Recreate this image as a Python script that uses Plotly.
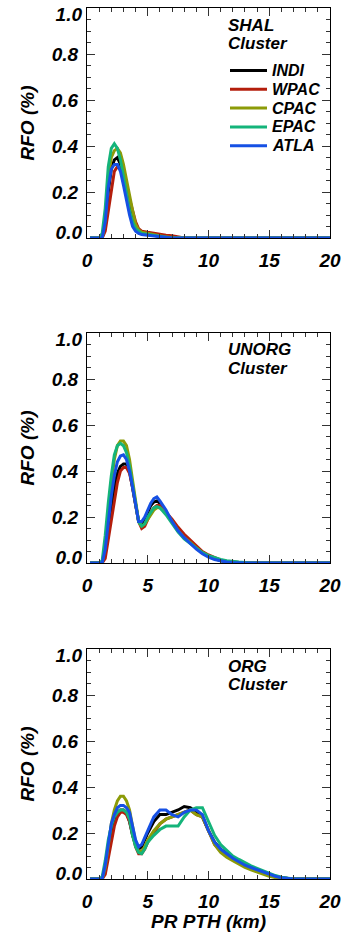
import plotly.graph_objects as go

# Precipitation top height (km) sample points for each cluster
X_SHAL = [0.25, 1.0, 1.25, 1.5, 1.75, 2.0, 2.25, 2.5, 2.75, 3.0, 3.25, 3.5, 3.75, 4.0,
          4.25, 4.5, 5.0, 5.5, 6.0, 6.5, 7.0, 7.5, 8.0, 20.0]
X_UNORG = [0.25, 1.0, 1.25, 1.5, 1.75, 2.0, 2.25, 2.5, 2.75, 3.0, 3.25, 3.5, 3.75, 4.0,
           4.25, 4.5, 4.75, 5.0, 5.25, 5.5, 5.75, 6.0, 6.5, 7.0, 7.5, 8.0, 8.5, 9.0,
           9.5, 10.0, 10.5, 11.0, 11.5, 12.0, 12.5, 13.0, 13.5, 20.0]
X_ORG = [0.25, 1.0, 1.25, 1.5, 1.75, 2.0, 2.25, 2.5, 2.75, 3.0, 3.25, 3.5, 3.75, 4.0,
         4.25, 4.5, 4.75, 5.0, 5.5, 6.0, 6.5, 7.0, 7.5, 8.0, 8.5, 9.0, 9.5, 10.0,
         10.5, 11.0, 11.5, 12.0, 12.5, 13.0, 13.5, 14.0, 14.5, 15.0, 15.5, 16.0,
         16.5, 17.0, 20.0]

REGIONS = ["INDI", "WPAC", "CPAC", "EPAC", "ATLA"]
COLORS = ["#000000", "#b41e0c", "#8c9b08", "#14b47a", "#1650e4"]

# RFO (%) - shallow cluster
SHAL_INDI = [0, 0, 0.0, 0.06, 0.20, 0.30, 0.34, 0.35, 0.32, 0.27, 0.21, 0.15, 0.09, 0.05,
             0.03, 0.02, 0.015, 0.01, 0.008, 0.005, 0.003, 0.0, 0, 0]
SHAL_WPAC = [0, 0, 0, 0.03, 0.12, 0.22, 0.29, 0.31, 0.30, 0.27, 0.22, 0.17, 0.12, 0.07,
             0.04, 0.03, 0.025, 0.02, 0.015, 0.012, 0.01, 0.005, 0, 0]
SHAL_CPAC = [0, 0, 0, 0.08, 0.26, 0.35, 0.38, 0.39, 0.37, 0.32, 0.25, 0.18, 0.12, 0.06,
             0.035, 0.025, 0.02, 0.012, 0.008, 0.005, 0.002, 0, 0, 0]
SHAL_EPAC = [0, 0, 0.02, 0.13, 0.31, 0.39, 0.41, 0.39, 0.34, 0.27, 0.19, 0.12, 0.07, 0.04,
             0.03, 0.02, 0.015, 0.01, 0.006, 0.003, 0, 0, 0, 0]
SHAL_ATLA = [0, 0, 0, 0.07, 0.22, 0.30, 0.32, 0.32, 0.29, 0.23, 0.16, 0.10, 0.05, 0.03,
             0.02, 0.015, 0.012, 0.01, 0.006, 0.003, 0, 0, 0, 0]

# RFO (%) - unorganized cluster
UNORG_INDI = [0, 0, 0.0, 0.05, 0.15, 0.25, 0.33, 0.39, 0.42, 0.43, 0.43, 0.40, 0.33, 0.25,
              0.18, 0.17, 0.19, 0.22, 0.25, 0.265, 0.27, 0.26, 0.22, 0.18, 0.14, 0.11,
              0.09, 0.065, 0.045, 0.03, 0.02, 0.01, 0.005, 0.002, 0, 0, 0, 0]
UNORG_WPAC = [0, 0, 0, 0.02, 0.10, 0.19, 0.28, 0.35, 0.40, 0.415, 0.415, 0.39, 0.33, 0.25,
              0.18, 0.15, 0.16, 0.19, 0.22, 0.24, 0.25, 0.25, 0.22, 0.19, 0.155, 0.125,
              0.10, 0.075, 0.05, 0.035, 0.022, 0.012, 0.007, 0.004, 0.002, 0, 0, 0]
UNORG_CPAC = [0, 0, 0, 0.08, 0.22, 0.35, 0.45, 0.51, 0.53, 0.53, 0.51, 0.45, 0.36, 0.26,
              0.18, 0.16, 0.17, 0.19, 0.21, 0.23, 0.24, 0.24, 0.22, 0.18, 0.14, 0.11,
              0.09, 0.065, 0.045, 0.03, 0.02, 0.012, 0.006, 0.003, 0.001, 0, 0, 0]
UNORG_EPAC = [0, 0, 0.01, 0.12, 0.26, 0.38, 0.47, 0.51, 0.52, 0.51, 0.48, 0.42, 0.34, 0.25,
              0.18, 0.16, 0.17, 0.20, 0.22, 0.24, 0.245, 0.24, 0.21, 0.17, 0.135, 0.105,
              0.085, 0.065, 0.045, 0.032, 0.022, 0.015, 0.01, 0.006, 0.004, 0.002, 0, 0]
UNORG_ATLA = [0, 0, 0, 0.06, 0.18, 0.29, 0.38, 0.44, 0.465, 0.47, 0.45, 0.40, 0.33, 0.25,
              0.18, 0.18, 0.20, 0.23, 0.26, 0.28, 0.287, 0.27, 0.23, 0.18, 0.14, 0.11,
              0.085, 0.06, 0.04, 0.025, 0.015, 0.008, 0.004, 0.002, 0, 0, 0, 0]

# RFO (%) - organized cluster
ORG_INDI = [0, 0, 0.0, 0.05, 0.14, 0.21, 0.26, 0.29, 0.30, 0.30, 0.29, 0.25, 0.19, 0.15,
            0.13, 0.14, 0.17, 0.20, 0.25, 0.28, 0.28, 0.29, 0.30, 0.315, 0.31, 0.29,
            0.27, 0.21, 0.16, 0.13, 0.11, 0.09, 0.075, 0.06, 0.05, 0.04, 0.03, 0.02,
            0.01, 0.003, 0, 0, 0]
ORG_WPAC = [0, 0, 0, 0.02, 0.09, 0.17, 0.23, 0.27, 0.29, 0.29, 0.28, 0.25, 0.19, 0.14,
            0.11, 0.11, 0.13, 0.16, 0.20, 0.24, 0.26, 0.27, 0.28, 0.29, 0.30, 0.28,
            0.27, 0.21, 0.15, 0.12, 0.10, 0.085, 0.07, 0.055, 0.045, 0.035, 0.025,
            0.018, 0.011, 0.006, 0.003, 0.001, 0]
ORG_CPAC = [0, 0, 0, 0.05, 0.15, 0.24, 0.30, 0.34, 0.36, 0.36, 0.34, 0.30, 0.23, 0.16,
            0.12, 0.12, 0.14, 0.17, 0.21, 0.24, 0.26, 0.27, 0.28, 0.29, 0.30, 0.28,
            0.27, 0.21, 0.15, 0.115, 0.095, 0.08, 0.065, 0.05, 0.04, 0.03, 0.02, 0.012,
            0.006, 0.003, 0.001, 0, 0]
ORG_EPAC = [0, 0, 0.01, 0.08, 0.17, 0.23, 0.27, 0.29, 0.30, 0.30, 0.29, 0.26, 0.19, 0.14,
            0.115, 0.11, 0.13, 0.16, 0.19, 0.215, 0.23, 0.23, 0.23, 0.27, 0.30, 0.31,
            0.31, 0.25, 0.19, 0.15, 0.125, 0.10, 0.085, 0.07, 0.057, 0.046, 0.035,
            0.025, 0.015, 0.008, 0.003, 0, 0]
ORG_ATLA = [0, 0, 0, 0.06, 0.16, 0.24, 0.28, 0.31, 0.32, 0.32, 0.31, 0.29, 0.23, 0.17,
            0.14, 0.15, 0.18, 0.21, 0.27, 0.30, 0.30, 0.28, 0.27, 0.29, 0.30, 0.30,
            0.28, 0.21, 0.16, 0.13, 0.11, 0.09, 0.075, 0.06, 0.05, 0.04, 0.03, 0.02,
            0.012, 0.005, 0.001, 0, 0]

PANELS = [
    ("SHAL", X_SHAL, [SHAL_INDI, SHAL_WPAC, SHAL_CPAC, SHAL_EPAC, SHAL_ATLA]),
    ("UNORG", X_UNORG, [UNORG_INDI, UNORG_WPAC, UNORG_CPAC, UNORG_EPAC, UNORG_ATLA]),
    ("ORG", X_ORG, [ORG_INDI, ORG_WPAC, ORG_CPAC, ORG_EPAC, ORG_ATLA]),
]

Y_TICKS = [0.0, 0.2, 0.4, 0.6, 0.8, 1.0]
Y_RANGE = [0.0, 1.0]

W, H = 346, 932
FRAME_L, FRAME_R = 87, 330
FRAME_TOPS = [8, 333, 649]
FRAME_H = 230

FAMILY = "Liberation Sans, Arial, sans-serif"
FONT = dict(family=FAMILY, size=19, color="black", weight="bold", style="italic")
SMALL = dict(family=FAMILY, size=16, color="black", weight="bold", style="italic")


def px_x(px):
    return (px - FRAME_L) / (FRAME_R - FRAME_L)


def px_y(py):
    return 1 - py / H


fig = go.Figure()
layout = dict(
    width=W, height=H, margin=dict(l=FRAME_L, r=W - FRAME_R, t=0, b=0),
    paper_bgcolor="white", plot_bgcolor="white", showlegend=False, font=FONT,
)

annotations, shapes = [], []
extra = 4  # next free y-axis number
for i, (name, xs, series) in enumerate(PANELS):
    ax = "" if i == 0 else str(i + 1)
    top = FRAME_TOPS[i]
    common = dict(showline=True, linecolor="black", linewidth=1, mirror="ticks",
                  ticks="inside", tickcolor="#333", showgrid=False, zeroline=False,
                  tickfont=FONT, automargin=False)
    layout["xaxis" + ax] = dict(
        common, domain=[0, 1], anchor="y" + ax, range=[0, 20], tick0=0, dtick=5,
        ticklen=8, ticklabelstandoff=5,
        minor=dict(ticks="inside", dtick=1, ticklen=4, tickcolor="#333"),
        title=dict(text="PR PTH (km)" if i == 2 else "", font=FONT, standoff=1),
    )
    # main RFO axis: frame, ticks and the inner labels
    layout["yaxis" + ax] = dict(
        common, domain=[px_y(top + FRAME_H), px_y(top)], anchor="x" + ax,
        range=Y_RANGE, tickmode="array", tickvals=Y_TICKS,
        ticktext=["" if v in (Y_TICKS[0], Y_TICKS[-1]) else f"{v:.1f}" for v in Y_TICKS],
        ticklen=8, ticklabelstandoff=4,
        minor=dict(ticks="inside", dtick=0.05, ticklen=4, tickcolor="#333"),
        title=dict(text="RFO (%)", font=FONT, standoff=12),
    )
    # twin RFO axes on the same scale carrying the end labels, nudged inward
    y_ids = ["y" + ax] * 3
    for val, shift in ((Y_TICKS[0], -6), (Y_TICKS[-1], 6)):
        layout[f"yaxis{extra}"] = dict(
            overlaying="y" + ax, anchor="x" + ax, side="left", range=Y_RANGE,
            tickmode="array", tickvals=[val], ticktext=[f"{val:.1f}"],
            ticks="", showline=False, showgrid=False, zeroline=False,
            tickfont=FONT, ticklabelshift=shift, ticklabelstandoff=4,
            ticklabeloverflow="allow", automargin=False,
        )
        y_ids.append(f"y{extra}")
        extra += 1
    # INDI, WPAC, CPAC on the main axis; EPAC and ATLA on the twins (same draw order)
    for k, (reg, col, ys) in enumerate(zip(REGIONS, COLORS, series)):
        fig.add_trace(go.Scatter(
            x=xs, y=ys, mode="lines", name=reg,
            line=dict(color=col, width=3), xaxis="x" + ax, yaxis=y_ids[k],
        ))
    # two-line panel caption
    for k, line in enumerate([name, "Cluster"]):
        annotations.append(dict(
            text=line, xref="paper", yref="paper", x=px_x(226),
            y=px_y(top + 17 + 18.5 * k), xanchor="left", yanchor="middle",
            showarrow=False, font=dict(SMALL, size=17),
        ))

# legend in the first panel: short line sample followed by the region name
for k, (reg, col) in enumerate(zip(REGIONS, COLORS)):
    yy = px_y(70.5 + 18.8 * k)
    shapes.append(dict(type="line", xref="paper", yref="paper",
                       x0=px_x(230), x1=px_x(267), y0=yy, y1=yy,
                       line=dict(color=col, width=3)))
    annotations.append(dict(text=reg, xref="paper", yref="paper", x=px_x(270),
                            y=yy, xanchor="left", yanchor="middle",
                            showarrow=False, font=SMALL))

layout["annotations"] = annotations
layout["shapes"] = shapes
fig.update_layout(**layout)
fig.write_html("out.html")
